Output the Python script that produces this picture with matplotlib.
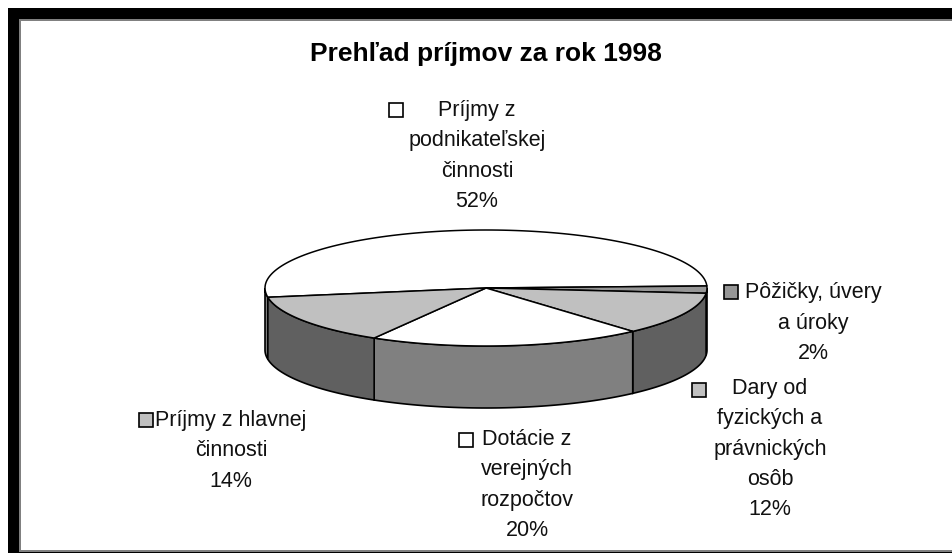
import numpy as np
import matplotlib
matplotlib.use('Agg')
import matplotlib.pyplot as plt
from matplotlib.patches import Polygon, Rectangle

plt.rcParams['font.family'] = ['Liberation Sans', 'DejaVu Sans']

# slices, clockwise from the left edge of the big one
labels = ['Príjmy z\npodnikateľskej\nčinnosti\n52%',
          'Pôžičky, úvery\na úroky\n2%',
          'Dary od\nfyzických a\nprávnických\nosôb\n12%',
          'Dotácie z\nverejných\nrozpočtov\n20%',
          'Príjmy z hlavnej\nčinnosti\n14%']
values = [52, 2, 12, 20, 14]
top_colors = ['#ffffff', '#969696', '#c0c0c0', '#ffffff', '#c0c0c0']
side_colors = ['#808080', '#202020', '#606060', '#808080', '#606060']

# pie geometry in pixels
cx, cy, rx, ry = 486, 288, 221, 58
depth = 62
start = 189.2

# label text centre x, centre y of first line, key left x, key top y
label_pos = [(477, 110, 389, 103),
             (813, 292, 724, 285),
             (770, 388, 692, 383),
             (527, 439, 459, 433),
             (231, 420, 139, 413)]

fig = plt.figure(figsize=(9.52, 5.53), dpi=100)
ax = fig.add_axes([0, 0, 1, 1])
ax.set_xlim(0, 952)
ax.set_ylim(553, 0)
ax.axis('off')

# black frame, the right side is cut off in the screenshot
ax.add_patch(Rectangle((8, 8), 944, 11, fc='black', ec='none'))
ax.add_patch(Rectangle((8, 8), 11, 545, fc='black', ec='none'))
ax.add_patch(Rectangle((19, 19), 933, 1.5, fc='#808080', ec='none'))
ax.add_patch(Rectangle((19, 19), 1.5, 533, fc='#808080', ec='none'))
ax.add_patch(Rectangle((19, 550), 933, 2, fc='#808080', ec='none'))
ax.add_patch(Rectangle((8, 552), 944, 1, fc='black', ec='none'))


def ell(angles, dy=0):
    a = np.radians(angles)
    return np.column_stack([cx + rx * np.cos(a), cy - ry * np.sin(a) + dy])


edges = start - np.cumsum([0] + values) * 3.6

# side walls first, only the front half of the ellipse shows
for i in range(len(values)):
    a0, a1 = edges[i], edges[i + 1]
    for lo, hi in [(-180, 0), (-540, -360), (180, 360)]:
        s = max(min(a0, a1), lo)
        e = min(max(a0, a1), hi)
        if e <= s:
            continue
        arc = np.linspace(s, e, 60)
        pts = np.vstack([ell(arc), ell(arc[::-1], depth)])
        ax.add_patch(Polygon(pts, fc=side_colors[i], ec='black', lw=1.2, zorder=2))

# top faces
for i in range(len(values)):
    arc = np.linspace(edges[i], edges[i + 1], 120)
    pts = np.vstack([[cx, cy], ell(arc)])
    ax.add_patch(Polygon(pts, fc=top_colors[i], ec='black', lw=1.1, zorder=3))

ax.text(486, 54, 'Prehľad príjmov za rok 1998', ha='center', va='center',
        fontsize=19, fontweight='bold', color='black')

line_h = 30
for i in range(len(values)):
    tx, ty, kx, ky = label_pos[i]
    # one text per label, centred as a block on its lines
    n = labels[i].count('\n')
    ax.text(tx, ty + n * line_h / 2 + 1, labels[i], ha='center', va='center',
            fontsize=15.5, color='#111111', linespacing=1.57, zorder=5)
    ax.add_patch(Rectangle((kx, ky), 13.5, 13.5, fc=top_colors[i], ec='black', lw=1.2, zorder=5))

fig.savefig('out.png', dpi=100, facecolor='white')
